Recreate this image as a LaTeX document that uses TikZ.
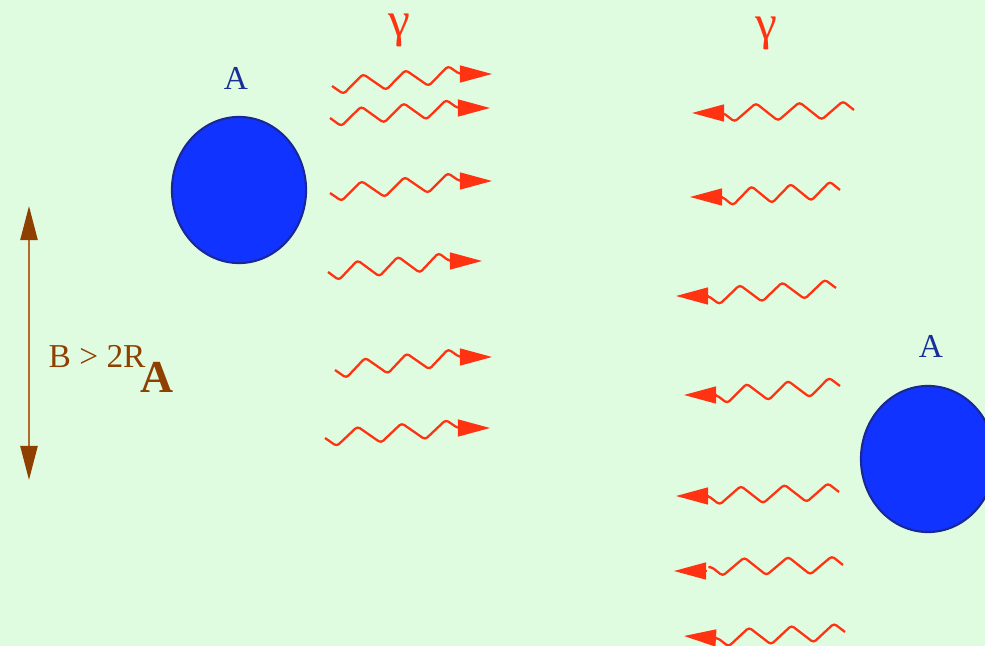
\documentclass[tikz,border=0pt]{standalone}
\usepackage{fontspec}
\setmainfont{Liberation Serif}
\usetikzlibrary{arrows.meta,decorations.pathmorphing,shapes.geometric,positioning}
\definecolor{bgmint}{RGB}{224,252,224}
\definecolor{nucblue}{RGB}{17,51,255}
\definecolor{nucedge}{RGB}{25,40,150}
\definecolor{labblue}{RGB}{26,46,153}
\definecolor{phred}{RGB}{255,51,17}
\definecolor{sepbrown}{RGB}{143,64,0}
\definecolor{seplight}{RGB}{180,105,45}
\tikzset{
  nucleus/.style={ellipse,draw=nucedge,fill=nucblue,line width=0.6pt,
                  minimum width=1.34cm,minimum height=1.46cm,inner sep=0pt},
  nuclab/.style={text=labblue,font=\fontsize{9.5}{11}\selectfont},
  gamlab/.style={text=phred,font=\fontsize{14}{16}\selectfont},
  photon/.style={draw=phred,line width=0.65pt,rounded corners=0.03cm,decorate,
                 decoration={zigzag,segment length=#1,amplitude=0.09cm,mirror}},
  photon/.default=0.43cm,
  phtip/.style={draw=phred,fill=phred,-{Triangle[length=0.32cm,width=0.17cm]}},
}
\begin{document}
\begin{tikzpicture}[x=0.01cm,y=-0.01cm]
\fill[bgmint] (0,0) rectangle (985,646);
\useasboundingbox (0,0) rectangle (985,646);
% nuclei and labels
\node[nucleus] (nl) at (239,190) {};
\node[nucleus] (nr) at (928,459) {};
\node[nuclab] (al) at (236,78) {A};
\node[nuclab] (ar) at (931,346) {A};
\node[gamlab] (gl) at (399,30) {γ};
\node[gamlab] (gr) at (766,33) {γ};
% impact parameter
\coordinate (btop) at (29,206);
\coordinate (bbot) at (29,480);
\draw[seplight,line width=0.7pt,
      {Triangle[length=0.34cm,width=0.17cm,color=sepbrown,fill=sepbrown]}-{Triangle[length=0.34cm,width=0.17cm,color=sepbrown,fill=sepbrown]}]
      (btop)--(bbot);
\node[anchor=base west,inner sep=0pt,text=sepbrown,font=\fontsize{9.5}{11}\selectfont] (bcut) at (48,368) {B > 2R};
\node[anchor=base west,inner sep=0pt,text=sepbrown,font=\fontsize{13}{15}\bfseries] (bsub) at (140,393) {A};
% photons going right
\coordinate (s1) at (332,86);  \coordinate (e1) at (460,74);  \coordinate (t1) at (492,74);
\coordinate (s2) at (330,118); \coordinate (e2) at (458,108); \coordinate (t2) at (490,108);
\coordinate (s3) at (330,193); \coordinate (e3) at (460,181); \coordinate (t3) at (492,181);
\coordinate (s4) at (328,272); \coordinate (e4) at (450,261); \coordinate (t4) at (482,261);
\coordinate (s5) at (335,370); \coordinate (e5) at (460,357); \coordinate (t5) at (492,357);
\coordinate (s6) at (325,438); \coordinate (e6) at (458,428); \coordinate (t6) at (490,428);
\draw[photon=0.427cm] (s1)--(e1); \draw[phtip] (e1)--(t1);
\draw[photon=0.426cm] (s2)--(e2); \draw[phtip] (e2)--(t2);
\draw[photon=0.433cm] (s3)--(e3); \draw[phtip] (e3)--(t3);
\draw[photon=0.406cm] (s4)--(e4); \draw[phtip] (e4)--(t4);
\draw[photon=0.417cm] (s5)--(e5); \draw[phtip] (e5)--(t5);
\draw[photon=0.443cm] (s6)--(e6); \draw[phtip] (e6)--(t6);
% photons going left
\coordinate (u1) at (854,110); \coordinate (f1) at (723,113); \coordinate (v1) at (692,113);
\coordinate (u2) at (840,190); \coordinate (f2) at (722,197); \coordinate (v2) at (690,197);
\coordinate (u3) at (836,288); \coordinate (f3) at (708,296); \coordinate (v3) at (676,296);
\coordinate (u4) at (840,386); \coordinate (f4) at (716,395); \coordinate (v4) at (684,395);
\coordinate (u5) at (839,492); \coordinate (f5) at (708,496); \coordinate (v5) at (676,496);
\coordinate (u6) at (843,565); \coordinate (f6) at (711,567); \coordinate (v6) at (674,571);
\coordinate (u7) at (845,632); \coordinate (f7) at (717,638); \coordinate (v7) at (684,636);
\coordinate (w6) at (706,571);
\draw[photon=0.435cm] (u1)--(f1); \draw[phtip] (f1)--(v1);
\draw[photon=0.392cm] (u2)--(f2); \draw[phtip] (f2)--(v2);
\draw[photon=0.426cm] (u3)--(f3); \draw[phtip] (f3)--(v3);
\draw[photon=0.413cm] (u4)--(f4); \draw[phtip] (f4)--(v4);
\draw[photon=0.435cm] (u5)--(f5); \draw[phtip] (f5)--(v5);
\draw[photon=0.438cm] (u6)--(f6); \draw[phtip] (w6)--(v6);
\draw[photon=0.425cm] (u7)--(f7); \draw[phtip] (f7)--(v7);
\end{tikzpicture}
\end{document}
